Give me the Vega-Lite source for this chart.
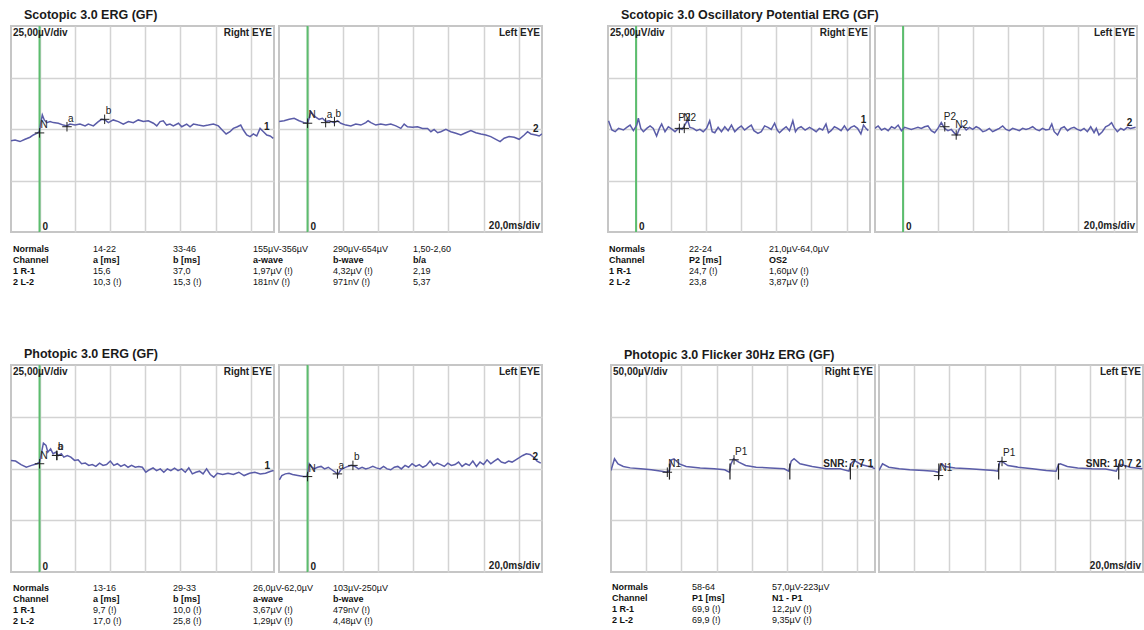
{
"$schema": "https://vega.github.io/schema/vega-lite/v6.json",
"background": "white",
"padding": {"left": 10, "top": 9, "right": 0, "bottom": 0},
"spacing": 60,
"datasets": {
"scot": [
{"e":"R","t":-16.2,"v":-5.7},{"e":"R","t":-13.9,"v":-5.3},{"e":"R","t":-11.1,"v":-6.1},{"e":"R","t":-8.2,"v":-5.0},{"e":"R","t":-5.4,"v":-4.0},{"e":"R","t":-3.5,"v":-2.9},{"e":"R","t":-1.6,"v":-2.1},{"e":"R","t":-0.1,"v":-1.3},{"e":"R","t":0.7,"v":2.8},{"e":"R","t":1.6,"v":6.8},{"e":"R","t":2.7,"v":4.4},{"e":"R","t":4.1,"v":3.1},{"e":"R","t":6.0,"v":3.6},{"e":"R","t":7.8,"v":3.1},{"e":"R","t":10.7,"v":2.8},{"e":"R","t":13.5,"v":1.9},{"e":"R","t":15.5,"v":1.5},{"e":"R","t":17.3,"v":2.4},{"e":"R","t":20.2,"v":1.9},{"e":"R","t":23.0,"v":2.4},{"e":"R","t":25.9,"v":1.5},{"e":"R","t":27.7,"v":2.4},{"e":"R","t":30.6,"v":1.5},{"e":"R","t":33.4,"v":3.6},{"e":"R","t":35.3,"v":4.7},{"e":"R","t":37.2,"v":4.4},{"e":"R","t":39.1,"v":3.1},{"e":"R","t":41.9,"v":4.4},{"e":"R","t":44.8,"v":3.6},{"e":"R","t":47.6,"v":2.4},{"e":"R","t":50.5,"v":3.6},{"e":"R","t":53.3,"v":3.1},{"e":"R","t":56.1,"v":4.4},{"e":"R","t":59.0,"v":3.6},{"e":"R","t":61.8,"v":4.0},{"e":"R","t":64.7,"v":2.8},{"e":"R","t":66.6,"v":1.5},{"e":"R","t":68.5,"v":3.6},{"e":"R","t":70.3,"v":4.0},{"e":"R","t":72.2,"v":1.9},{"e":"R","t":74.1,"v":2.4},{"e":"R","t":76.0,"v":1.5},{"e":"R","t":78.9,"v":2.8},{"e":"R","t":80.8,"v":1.1},{"e":"R","t":83.6,"v":2.4},{"e":"R","t":85.5,"v":1.1},{"e":"R","t":87.4,"v":2.4},{"e":"R","t":90.2,"v":1.9},{"e":"R","t":93.1,"v":1.5},{"e":"R","t":95.9,"v":1.9},{"e":"R","t":98.8,"v":2.4},{"e":"R","t":101.6,"v":1.5},{"e":"R","t":103.5,"v":-0.2},{"e":"R","t":106.0,"v":-2.4},{"e":"R","t":108.2,"v":-1.3},{"e":"R","t":110.1,"v":0.3},{"e":"R","t":112.4,"v":1.1},{"e":"R","t":114.3,"v":1.9},{"e":"R","t":115.8,"v":-0.5},{"e":"R","t":117.7,"v":-2.9},{"e":"R","t":119.6,"v":-3.7},{"e":"R","t":121.5,"v":-2.4},{"e":"R","t":123.4,"v":-3.4},{"e":"R","t":125.3,"v":0.3},{"e":"R","t":127.2,"v":-1.3},{"e":"R","t":129.1,"v":-2.9},{"e":"R","t":131.0,"v":-3.4},{"e":"R","t":132.8,"v":-4.5},
{"e":"L","t":-16.1,"v":3.6},{"e":"L","t":-13.3,"v":4.0},{"e":"L","t":-10.4,"v":4.7},{"e":"L","t":-7.6,"v":5.2},{"e":"L","t":-4.8,"v":4.0},{"e":"L","t":-1.9,"v":3.1},{"e":"L","t":0,"v":2.8},{"e":"L","t":0.9,"v":5.2},{"e":"L","t":1.9,"v":8.4},{"e":"L","t":3.4,"v":6.8},{"e":"L","t":4.7,"v":5.7},{"e":"L","t":6.6,"v":4.7},{"e":"L","t":8.5,"v":5.2},{"e":"L","t":10.4,"v":3.6},{"e":"L","t":12.3,"v":4.0},{"e":"L","t":15.1,"v":3.1},{"e":"L","t":17.0,"v":4.0},{"e":"L","t":18.9,"v":2.8},{"e":"L","t":21.8,"v":1.9},{"e":"L","t":24.6,"v":1.5},{"e":"L","t":27.4,"v":2.4},{"e":"L","t":30.3,"v":1.9},{"e":"L","t":33.1,"v":3.1},{"e":"L","t":34.4,"v":4.0},{"e":"L","t":36.0,"v":3.1},{"e":"L","t":38.8,"v":1.9},{"e":"L","t":41.6,"v":2.4},{"e":"L","t":44.5,"v":1.9},{"e":"L","t":47.3,"v":2.4},{"e":"L","t":50.2,"v":1.5},{"e":"L","t":53.0,"v":0.3},{"e":"L","t":54.9,"v":2.4},{"e":"L","t":56.8,"v":1.1},{"e":"L","t":59.7,"v":0.8},{"e":"L","t":62.5,"v":1.1},{"e":"L","t":65.3,"v":0.3},{"e":"L","t":68.2,"v":0.3},{"e":"L","t":70.1,"v":-1.3},{"e":"L","t":71.9,"v":-0.2},{"e":"L","t":73.9,"v":-1.8},{"e":"L","t":75.7,"v":-1.3},{"e":"L","t":78.6,"v":-0.2},{"e":"L","t":81.4,"v":-1.3},{"e":"L","t":84.3,"v":-2.1},{"e":"L","t":87.1,"v":-2.9},{"e":"L","t":89.9,"v":-1.8},{"e":"L","t":92.8,"v":-0.8},{"e":"L","t":95.6,"v":-1.8},{"e":"L","t":98.5,"v":-2.4},{"e":"L","t":101.3,"v":-2.9},{"e":"L","t":104.1,"v":-3.7},{"e":"L","t":107.0,"v":-5.0},{"e":"L","t":109.4,"v":-6.1},{"e":"L","t":111.7,"v":-4.5},{"e":"L","t":114.5,"v":-3.7},{"e":"L","t":117.4,"v":-4.0},{"e":"L","t":120.2,"v":-5.0},{"e":"L","t":123.1,"v":-2.9},{"e":"L","t":125.0,"v":-1.3},{"e":"L","t":126.9,"v":-2.4},{"e":"L","t":129.7,"v":-2.9},{"e":"L","t":131.6,"v":-3.4},{"e":"L","t":133.2,"v":-2.4},
{"e":"R","k":"eye","lab":"Right EYE"},{"e":"L","k":"eye","lab":"Left EYE"},{"e":"R","k":"tl","lab":"25,00µV/div"},{"e":"L","k":"br","lab":"20,0ms/div"},
{"e":"R","k":"mk","t":0,"v":-1.9,"lab":"N"},{"e":"R","k":"mk","t":15.6,"v":1.1,"lab":"a"},{"e":"R","k":"mk","t":37.0,"v":4.7,"lab":"b"},{"e":"R","k":"ch","t":129.1,"v":0.8,"lab":"1"},
{"e":"L","k":"mk","t":0,"v":2.8,"lab":"N"},{"e":"L","k":"mk","t":10.3,"v":3.1,"lab":"a"},{"e":"L","k":"mk","t":15.3,"v":3.6,"lab":"b"},{"e":"L","k":"ch","t":129.7,"v":0,"lab":"2"}
],
"osc": [
{"e":"R","t":-15.7,"v":4.0},{"e":"R","t":-13.8,"v":-0.5},{"e":"R","t":-11.9,"v":-1.3},{"e":"R","t":-10.0,"v":0.3},{"e":"R","t":-7.2,"v":-0.5},{"e":"R","t":-5.3,"v":0.8},{"e":"R","t":-3.4,"v":1.9},{"e":"R","t":-1.5,"v":-0.8},{"e":"R","t":0.4,"v":1.9},{"e":"R","t":1.3,"v":5.2},{"e":"R","t":2.7,"v":0.3},{"e":"R","t":4.2,"v":-1.3},{"e":"R","t":6.1,"v":0.3},{"e":"R","t":8.0,"v":1.5},{"e":"R","t":9.8,"v":0.3},{"e":"R","t":11.7,"v":-3.4},{"e":"R","t":13.3,"v":0.3},{"e":"R","t":14.6,"v":2.4},{"e":"R","t":16.5,"v":-1.3},{"e":"R","t":18.4,"v":1.1},{"e":"R","t":20.6,"v":-0.2},{"e":"R","t":22.2,"v":-1.3},{"e":"R","t":24.1,"v":0.3},{"e":"R","t":26.3,"v":-0.2},{"e":"R","t":27.8,"v":1.9},{"e":"R","t":29.4,"v":4.4},{"e":"R","t":30.7,"v":0.8},{"e":"R","t":32.6,"v":0.3},{"e":"R","t":34.5,"v":-0.8},{"e":"R","t":36.4,"v":-0.2},{"e":"R","t":38.3,"v":-1.3},{"e":"R","t":40.2,"v":0.3},{"e":"R","t":42.0,"v":4.0},{"e":"R","t":43.4,"v":-1.3},{"e":"R","t":44.9,"v":-1.8},{"e":"R","t":46.8,"v":0.8},{"e":"R","t":48.7,"v":-1.3},{"e":"R","t":50.6,"v":1.1},{"e":"R","t":52.5,"v":-0.8},{"e":"R","t":54.4,"v":1.9},{"e":"R","t":56.3,"v":-1.3},{"e":"R","t":58.1,"v":0.3},{"e":"R","t":60.0,"v":1.5},{"e":"R","t":61.9,"v":-0.5},{"e":"R","t":63.8,"v":0.8},{"e":"R","t":65.7,"v":1.9},{"e":"R","t":67.2,"v":-0.8},{"e":"R","t":69.5,"v":-2.1},{"e":"R","t":71.4,"v":-1.3},{"e":"R","t":73.3,"v":1.5},{"e":"R","t":75.2,"v":0.8},{"e":"R","t":77.1,"v":-0.2},{"e":"R","t":79.0,"v":2.8},{"e":"R","t":80.5,"v":-0.5},{"e":"R","t":81.8,"v":-1.8},{"e":"R","t":83.7,"v":-0.2},{"e":"R","t":85.6,"v":1.1},{"e":"R","t":87.5,"v":-0.8},{"e":"R","t":89.4,"v":4.0},{"e":"R","t":90.9,"v":-1.3},{"e":"R","t":92.2,"v":0.3},{"e":"R","t":94.1,"v":1.1},{"e":"R","t":96.4,"v":-0.5},{"e":"R","t":98.9,"v":0.8},{"e":"R","t":100.8,"v":-0.2},{"e":"R","t":102.7,"v":-1.3},{"e":"R","t":104.5,"v":0.3},{"e":"R","t":106.4,"v":-0.5},{"e":"R","t":108.3,"v":2.4},{"e":"R","t":109.7,"v":-1.8},{"e":"R","t":111.2,"v":-0.8},{"e":"R","t":113.1,"v":1.1},{"e":"R","t":115.0,"v":0.3},{"e":"R","t":116.9,"v":-0.8},{"e":"R","t":118.8,"v":1.5},{"e":"R","t":120.6,"v":-0.8},{"e":"R","t":122.5,"v":0.8},{"e":"R","t":124.4,"v":1.5},{"e":"R","t":126.3,"v":0.3},{"e":"R","t":128.2,"v":-2.4},{"e":"R","t":129.7,"v":1.9},{"e":"R","t":131.1,"v":0.3},{"e":"R","t":132.4,"v":-0.8},
{"e":"L","t":-16.1,"v":0.3},{"e":"L","t":-14.2,"v":1.5},{"e":"L","t":-12.3,"v":-0.5},{"e":"L","t":-10.4,"v":0.3},{"e":"L","t":-8.5,"v":-0.8},{"e":"L","t":-6.6,"v":1.1},{"e":"L","t":-4.7,"v":0.3},{"e":"L","t":-2.8,"v":1.9},{"e":"L","t":-0.9,"v":-0.8},{"e":"L","t":0.9,"v":0.8},{"e":"L","t":2.8,"v":0.3},{"e":"L","t":4.7,"v":-0.2},{"e":"L","t":6.6,"v":0.3},{"e":"L","t":8.5,"v":0.8},{"e":"L","t":10.4,"v":0.3},{"e":"L","t":12.3,"v":1.1},{"e":"L","t":14.2,"v":1.5},{"e":"L","t":16.1,"v":-0.8},{"e":"L","t":18.0,"v":-1.8},{"e":"L","t":19.9,"v":0.3},{"e":"L","t":21.8,"v":3.1},{"e":"L","t":23.7,"v":0.3},{"e":"L","t":25.6,"v":-0.8},{"e":"L","t":27.5,"v":-0.2},{"e":"L","t":29.4,"v":-2.1},{"e":"L","t":30.7,"v":-2.9},{"e":"L","t":32.2,"v":0.3},{"e":"L","t":34.1,"v":1.5},{"e":"L","t":36.0,"v":-0.5},{"e":"L","t":37.9,"v":0.8},{"e":"L","t":39.8,"v":-0.2},{"e":"L","t":41.7,"v":1.1},{"e":"L","t":43.6,"v":0.3},{"e":"L","t":45.5,"v":-1.3},{"e":"L","t":47.3,"v":-0.8},{"e":"L","t":49.2,"v":0.3},{"e":"L","t":51.1,"v":-1.3},{"e":"L","t":53.0,"v":-0.5},{"e":"L","t":54.9,"v":0.3},{"e":"L","t":56.8,"v":1.5},{"e":"L","t":58.7,"v":-0.2},{"e":"L","t":60.6,"v":-0.8},{"e":"L","t":62.5,"v":0.3},{"e":"L","t":64.4,"v":-0.2},{"e":"L","t":66.3,"v":-0.8},{"e":"L","t":68.2,"v":0.3},{"e":"L","t":70.1,"v":-0.2},{"e":"L","t":72.0,"v":0.3},{"e":"L","t":73.9,"v":1.1},{"e":"L","t":75.8,"v":-0.2},{"e":"L","t":77.7,"v":-0.8},{"e":"L","t":79.5,"v":0.3},{"e":"L","t":81.4,"v":-0.5},{"e":"L","t":83.3,"v":-0.2},{"e":"L","t":84.8,"v":2.4},{"e":"L","t":86.2,"v":-1.3},{"e":"L","t":88.1,"v":-2.9},{"e":"L","t":90.0,"v":0.3},{"e":"L","t":91.9,"v":1.1},{"e":"L","t":93.8,"v":-0.8},{"e":"L","t":95.6,"v":0.3},{"e":"L","t":97.5,"v":0.8},{"e":"L","t":99.4,"v":-0.2},{"e":"L","t":101.3,"v":-0.8},{"e":"L","t":103.2,"v":0.3},{"e":"L","t":105.1,"v":-1.3},{"e":"L","t":107.0,"v":1.1},{"e":"L","t":108.9,"v":-1.8},{"e":"L","t":110.2,"v":0.3},{"e":"L","t":111.7,"v":-2.9},{"e":"L","t":113.6,"v":-1.3},{"e":"L","t":115.5,"v":1.1},{"e":"L","t":117.4,"v":1.9},{"e":"L","t":118.9,"v":3.1},{"e":"L","t":120.3,"v":0.8},{"e":"L","t":122.2,"v":-1.3},{"e":"L","t":124.1,"v":0.3},{"e":"L","t":125.9,"v":-0.5},{"e":"L","t":127.8,"v":0.8},{"e":"L","t":129.7,"v":0.3},{"e":"L","t":132.6,"v":0.8},
{"e":"R","k":"eye","lab":"Right EYE"},{"e":"L","k":"eye","lab":"Left EYE"},{"e":"R","k":"tl","lab":"25,00µV/div"},{"e":"L","k":"br","lab":"20,0ms/div"},
{"e":"R","k":"mk","t":24.7,"v":0.3,"lab":"P2"},{"e":"R","k":"mk","t":27.5,"v":0.3,"lab":"N2"},{"e":"R","k":"ch","t":129.7,"v":4.4,"lab":"1"},
{"e":"L","k":"mk","t":23.8,"v":1.1,"lab":"P2"},{"e":"L","k":"mk","t":30.3,"v":-2.9,"lab":"N2"},{"e":"L","k":"ch","t":129.2,"v":3.1,"lab":"2"}
],
"phot": [
{"e":"R","t":-16.2,"v":3.9},{"e":"R","t":-13.6,"v":3.6},{"e":"R","t":-10.5,"v":1.9},{"e":"R","t":-7.5,"v":0.6},{"e":"R","t":-4.5,"v":1.5},{"e":"R","t":-1.4,"v":2.3},{"e":"R","t":0,"v":3.1},{"e":"R","t":1.0,"v":7.1},{"e":"R","t":2.2,"v":12.3},{"e":"R","t":3.7,"v":11.2},{"e":"R","t":4.7,"v":7.9},{"e":"R","t":6.3,"v":9.5},{"e":"R","t":7.7,"v":7.1},{"e":"R","t":9.1,"v":7.9},{"e":"R","t":10.8,"v":6.3},{"e":"R","t":12.4,"v":7.1},{"e":"R","t":13.8,"v":5.5},{"e":"R","t":15.8,"v":6.3},{"e":"R","t":17.8,"v":5.5},{"e":"R","t":19.9,"v":3.9},{"e":"R","t":21.9,"v":4.2},{"e":"R","t":23.9,"v":2.3},{"e":"R","t":26.0,"v":2.6},{"e":"R","t":28.0,"v":1.5},{"e":"R","t":30.0,"v":1.9},{"e":"R","t":32.0,"v":1.0},{"e":"R","t":34.1,"v":2.6},{"e":"R","t":36.1,"v":1.5},{"e":"R","t":38.1,"v":1.9},{"e":"R","t":40.2,"v":3.6},{"e":"R","t":42.2,"v":1.5},{"e":"R","t":44.2,"v":2.3},{"e":"R","t":46.2,"v":1.0},{"e":"R","t":48.3,"v":1.9},{"e":"R","t":50.3,"v":0.6},{"e":"R","t":52.3,"v":1.5},{"e":"R","t":54.4,"v":0.6},{"e":"R","t":56.4,"v":1.0},{"e":"R","t":58.4,"v":0.6},{"e":"R","t":60.4,"v":-1.8},{"e":"R","t":62.5,"v":-0.6},{"e":"R","t":64.5,"v":0.3},{"e":"R","t":66.5,"v":-1.0},{"e":"R","t":68.6,"v":-0.2},{"e":"R","t":70.6,"v":-1.8},{"e":"R","t":72.6,"v":-0.2},{"e":"R","t":74.6,"v":-1.0},{"e":"R","t":76.7,"v":0.2},{"e":"R","t":78.7,"v":-1.0},{"e":"R","t":80.7,"v":-0.2},{"e":"R","t":82.8,"v":-1.8},{"e":"R","t":84.8,"v":0.3},{"e":"R","t":86.8,"v":-2.6},{"e":"R","t":88.8,"v":-1.8},{"e":"R","t":90.9,"v":-1.3},{"e":"R","t":92.9,"v":-2.6},{"e":"R","t":94.9,"v":-0.2},{"e":"R","t":97.0,"v":-2.9},{"e":"R","t":99.0,"v":-4.2},{"e":"R","t":101.0,"v":-2.3},{"e":"R","t":104.1,"v":-2.9},{"e":"R","t":107.1,"v":-2.3},{"e":"R","t":110.1,"v":-2.9},{"e":"R","t":113.2,"v":-1.8},{"e":"R","t":116.2,"v":-3.4},{"e":"R","t":119.3,"v":-2.3},{"e":"R","t":122.3,"v":-1.8},{"e":"R","t":125.4,"v":-2.6},{"e":"R","t":128.4,"v":-2.3},{"e":"R","t":131.4,"v":-1.3},{"e":"R","t":133.0,"v":-1.0},
{"e":"L","t":-16.0,"v":-5.5},{"e":"L","t":-14.6,"v":-3.4},{"e":"L","t":-12.6,"v":-2.6},{"e":"L","t":-10.5,"v":-2.3},{"e":"L","t":-8.5,"v":-2.9},{"e":"L","t":-5.5,"v":-3.4},{"e":"L","t":-2.4,"v":-3.9},{"e":"L","t":-0.4,"v":-3.9},{"e":"L","t":0.2,"v":-1.8},{"e":"L","t":1.0,"v":2.3},{"e":"L","t":2.2,"v":1.0},{"e":"L","t":3.7,"v":-0.2},{"e":"L","t":5.7,"v":0.6},{"e":"L","t":7.7,"v":1.0},{"e":"L","t":9.7,"v":-0.2},{"e":"L","t":11.8,"v":0.6},{"e":"L","t":13.8,"v":-0.6},{"e":"L","t":15.8,"v":-1.8},{"e":"L","t":17.2,"v":-2.9},{"e":"L","t":18.9,"v":-0.6},{"e":"L","t":20.9,"v":0.3},{"e":"L","t":22.9,"v":1.0},{"e":"L","t":24.9,"v":1.5},{"e":"L","t":27.0,"v":1.0},{"e":"L","t":29.0,"v":-0.2},{"e":"L","t":31.0,"v":0.6},{"e":"L","t":33.1,"v":-0.2},{"e":"L","t":35.1,"v":0.3},{"e":"L","t":37.1,"v":1.0},{"e":"L","t":39.1,"v":0.3},{"e":"L","t":41.2,"v":-0.2},{"e":"L","t":43.2,"v":1.0},{"e":"L","t":45.2,"v":-0.2},{"e":"L","t":47.3,"v":-0.6},{"e":"L","t":49.3,"v":0.6},{"e":"L","t":51.3,"v":1.0},{"e":"L","t":53.3,"v":-0.2},{"e":"L","t":55.4,"v":1.5},{"e":"L","t":57.4,"v":0.6},{"e":"L","t":59.4,"v":2.3},{"e":"L","t":61.5,"v":1.0},{"e":"L","t":63.5,"v":1.9},{"e":"L","t":65.5,"v":0.6},{"e":"L","t":67.5,"v":1.5},{"e":"L","t":69.6,"v":3.6},{"e":"L","t":71.6,"v":1.5},{"e":"L","t":73.6,"v":2.6},{"e":"L","t":75.7,"v":1.9},{"e":"L","t":77.7,"v":1.0},{"e":"L","t":79.7,"v":2.6},{"e":"L","t":81.7,"v":1.5},{"e":"L","t":83.8,"v":1.9},{"e":"L","t":85.8,"v":3.1},{"e":"L","t":87.8,"v":1.0},{"e":"L","t":89.9,"v":2.3},{"e":"L","t":91.9,"v":1.5},{"e":"L","t":93.9,"v":3.6},{"e":"L","t":96.0,"v":1.0},{"e":"L","t":98.0,"v":3.1},{"e":"L","t":100.0,"v":1.9},{"e":"L","t":102.0,"v":4.2},{"e":"L","t":104.1,"v":2.3},{"e":"L","t":106.1,"v":3.6},{"e":"L","t":108.1,"v":4.7},{"e":"L","t":110.1,"v":3.1},{"e":"L","t":112.2,"v":2.6},{"e":"L","t":114.2,"v":3.6},{"e":"L","t":116.2,"v":3.1},{"e":"L","t":118.3,"v":4.2},{"e":"L","t":120.3,"v":5.2},{"e":"L","t":122.3,"v":6.3},{"e":"L","t":124.3,"v":7.1},{"e":"L","t":126.4,"v":6.8},{"e":"L","t":128.4,"v":5.5},{"e":"L","t":130.4,"v":3.6},{"e":"L","t":132.5,"v":2.6},
{"e":"R","k":"eye","lab":"Right EYE"},{"e":"L","k":"eye","lab":"Left EYE"},{"e":"R","k":"tl","lab":"25,00µV/div"},{"e":"L","k":"br","lab":"20,0ms/div"},
{"e":"R","k":"mk","t":0,"v":2.3,"lab":"N"},{"e":"R","k":"mk","t":9.7,"v":6.3,"lab":"a"},{"e":"R","k":"mk","t":10.0,"v":6.3,"lab":"b"},{"e":"R","k":"ch","t":129.4,"v":1.0,"lab":"1"},
{"e":"L","k":"mk","t":0,"v":-3.9,"lab":"N"},{"e":"L","k":"mk","t":17.0,"v":-2.6,"lab":"a"},{"e":"L","k":"mk","t":25.8,"v":1.5,"lab":"b"},{"e":"L","k":"ch","t":129.4,"v":5.5,"lab":"2"}
],
"flick": [
{"e":"R","t":0,"v":-1.9},{"e":"R","t":2.0,"v":9.4},{"e":"R","t":4.0,"v":4.5},{"e":"R","t":7.0,"v":1.9},{"e":"R","t":10.9,"v":0.6},{"e":"R","t":16.9,"v":-0.3},{"e":"R","t":22.9,"v":-1.3},{"e":"R","t":28.8,"v":-2.6},{"e":"R","t":31.8,"v":-3.6},{"e":"R","t":33.2,"v":-1.9},{"e":"R","t":34.4,"v":8.4},{"e":"R","t":35.8,"v":9.4},{"e":"R","t":38.8,"v":4.5},{"e":"R","t":42.7,"v":1.9},{"e":"R","t":50.7,"v":0.6},{"e":"R","t":58.6,"v":-0.3},{"e":"R","t":64.6,"v":-1.3},{"e":"R","t":67.2,"v":-3.6},{"e":"R","t":68.2,"v":4.5},{"e":"R","t":69.6,"v":9.4},{"e":"R","t":72.6,"v":6.1},{"e":"R","t":76.5,"v":2.9},{"e":"R","t":82.5,"v":1.3},{"e":"R","t":90.5,"v":0.6},{"e":"R","t":98.4,"v":-0.3},{"e":"R","t":101.0,"v":-2.6},{"e":"R","t":102.4,"v":7.1},{"e":"R","t":104.0,"v":9.4},{"e":"R","t":107.4,"v":4.5},{"e":"R","t":114.3,"v":1.9},{"e":"R","t":122.3,"v":-0.3},{"e":"R","t":130.2,"v":-0.3},{"e":"R","t":135.2,"v":-2.6},{"e":"R","t":136.6,"v":5.2},{"e":"R","t":138.2,"v":7.8},{"e":"R","t":142.1,"v":3.9},{"e":"R","t":148.1,"v":1.3},{"e":"R","t":150,"v":-0.3},
{"e":"L","t":0,"v":-1.9},{"e":"L","t":2.0,"v":4.5},{"e":"L","t":5.6,"v":1.3},{"e":"L","t":11.5,"v":-0.3},{"e":"L","t":17.5,"v":-1.3},{"e":"L","t":25.4,"v":-1.9},{"e":"L","t":31.4,"v":-2.6},{"e":"L","t":33.8,"v":-3.6},{"e":"L","t":34.8,"v":2.9},{"e":"L","t":35.8,"v":4.5},{"e":"L","t":37.4,"v":1.9},{"e":"L","t":43.3,"v":0.6},{"e":"L","t":51.3,"v":-0.3},{"e":"L","t":59.2,"v":-1.3},{"e":"L","t":65.2,"v":-1.9},{"e":"L","t":67.6,"v":-2.6},{"e":"L","t":68.6,"v":6.1},{"e":"L","t":69.6,"v":7.1},{"e":"L","t":73.2,"v":2.9},{"e":"L","t":79.1,"v":1.3},{"e":"L","t":87.1,"v":-0.3},{"e":"L","t":95.0,"v":-1.9},{"e":"L","t":100.6,"v":-2.6},{"e":"L","t":102.0,"v":3.9},{"e":"L","t":103.0,"v":4.5},{"e":"L","t":107.0,"v":1.9},{"e":"L","t":112.9,"v":0.6},{"e":"L","t":120.9,"v":-0.3},{"e":"L","t":128.8,"v":-0.6},{"e":"L","t":134.8,"v":-2.6},{"e":"L","t":136.2,"v":1.9},{"e":"L","t":137.8,"v":3.9},{"e":"L","t":142.7,"v":1.3},{"e":"L","t":149.7,"v":-0.3},
{"e":"R","k":"eye","lab":"Right EYE"},{"e":"L","k":"eye","lab":"Left EYE"},{"e":"R","k":"tl","lab":"50,00µV/div"},{"e":"L","k":"br","lab":"20,0ms/div"},
{"e":"R","k":"mk","t":32.0,"v":-3.6,"lab":"N1"},{"e":"R","k":"mk","t":69.9,"v":8.4,"lab":"P1"},{"e":"R","k":"tk","t":33.2,"v":-3},{"e":"R","k":"tk","t":67.6,"v":-3},{"e":"R","k":"tk","t":101.6,"v":-3},{"e":"R","k":"tk","t":136.0,"v":-3},{"e":"R","k":"snr","t":144,"v":4,"lab":"SNR: 7,7"},{"e":"R","k":"ch","t":147.5,"v":4,"lab":"1"},
{"e":"L","k":"mk","t":33.8,"v":-6.8,"lab":"N1"},{"e":"L","k":"mk","t":69.9,"v":6.8,"lab":"P1"},{"e":"L","k":"tk","t":34.0,"v":-3},{"e":"L","k":"tk","t":68.0,"v":-3},{"e":"L","k":"tk","t":102.0,"v":-3},{"e":"L","k":"tk","t":136.2,"v":-3},{"e":"L","k":"snr","t":144,"v":4,"lab":"SNR: 10,7"},{"e":"L","k":"ch","t":147.5,"v":4,"lab":"2"}
],
"tab": [
{"b":"S","r":0,"c":0,"s":"Normals"},{"b":"S","r":0,"c":1,"s":"14-22"},{"b":"S","r":0,"c":2,"s":"33-46"},{"b":"S","r":0,"c":3,"s":"155µV-356µV"},{"b":"S","r":0,"c":4,"s":"290µV-654µV"},{"b":"S","r":0,"c":5,"s":"1,50-2,60"},
{"b":"S","r":1,"c":0,"s":"Channel"},{"b":"S","r":1,"c":1,"s":"a [ms]"},{"b":"S","r":1,"c":2,"s":"b [ms]"},{"b":"S","r":1,"c":3,"s":"a-wave"},{"b":"S","r":1,"c":4,"s":"b-wave"},{"b":"S","r":1,"c":5,"s":"b/a"},
{"b":"S","r":2,"c":0,"s":"1 R-1"},{"b":"S","r":2,"c":1,"s":"15,6"},{"b":"S","r":2,"c":2,"s":"37,0"},{"b":"S","r":2,"c":3,"s":"1,97µV (!)"},{"b":"S","r":2,"c":4,"s":"4,32µV (!)"},{"b":"S","r":2,"c":5,"s":"2,19"},
{"b":"S","r":3,"c":0,"s":"2 L-2"},{"b":"S","r":3,"c":1,"s":"10,3 (!)"},{"b":"S","r":3,"c":2,"s":"15,3 (!)"},{"b":"S","r":3,"c":3,"s":"181nV (!)"},{"b":"S","r":3,"c":4,"s":"971nV (!)"},{"b":"S","r":3,"c":5,"s":"5,37"},
{"b":"O","r":0,"c":0,"s":"Normals"},{"b":"O","r":0,"c":1,"s":"22-24"},{"b":"O","r":0,"c":2,"s":"21,0µV-64,0µV"},
{"b":"O","r":1,"c":0,"s":"Channel"},{"b":"O","r":1,"c":1,"s":"P2 [ms]"},{"b":"O","r":1,"c":2,"s":"OS2"},
{"b":"O","r":2,"c":0,"s":"1 R-1"},{"b":"O","r":2,"c":1,"s":"24,7 (!)"},{"b":"O","r":2,"c":2,"s":"1,60µV (!)"},
{"b":"O","r":3,"c":0,"s":"2 L-2"},{"b":"O","r":3,"c":1,"s":"23,8"},{"b":"O","r":3,"c":2,"s":"3,87µV (!)"},
{"b":"P","r":0,"c":0,"s":"Normals"},{"b":"P","r":0,"c":1,"s":"13-16"},{"b":"P","r":0,"c":2,"s":"29-33"},{"b":"P","r":0,"c":3,"s":"26,0µV-62,0µV"},{"b":"P","r":0,"c":4,"s":"103µV-250µV"},
{"b":"P","r":1,"c":0,"s":"Channel"},{"b":"P","r":1,"c":1,"s":"a [ms]"},{"b":"P","r":1,"c":2,"s":"b [ms]"},{"b":"P","r":1,"c":3,"s":"a-wave"},{"b":"P","r":1,"c":4,"s":"b-wave"},
{"b":"P","r":2,"c":0,"s":"1 R-1"},{"b":"P","r":2,"c":1,"s":"9,7 (!)"},{"b":"P","r":2,"c":2,"s":"10,0 (!)"},{"b":"P","r":2,"c":3,"s":"3,67µV (!)"},{"b":"P","r":2,"c":4,"s":"479nV (!)"},
{"b":"P","r":3,"c":0,"s":"2 L-2"},{"b":"P","r":3,"c":1,"s":"17,0 (!)"},{"b":"P","r":3,"c":2,"s":"25,8 (!)"},{"b":"P","r":3,"c":3,"s":"1,29µV (!)"},{"b":"P","r":3,"c":4,"s":"4,48µV (!)"},
{"b":"F","r":0,"c":0,"s":"Normals"},{"b":"F","r":0,"c":1,"s":"58-64"},{"b":"F","r":0,"c":2,"s":"57,0µV-223µV"},
{"b":"F","r":1,"c":0,"s":"Channel"},{"b":"F","r":1,"c":1,"s":"P1 [ms]"},{"b":"F","r":1,"c":2,"s":"N1 - P1"},
{"b":"F","r":2,"c":0,"s":"1 R-1"},{"b":"F","r":2,"c":1,"s":"69,9 (!)"},{"b":"F","r":2,"c":2,"s":"12,2µV (!)"},
{"b":"F","r":3,"c":0,"s":"2 L-2"},{"b":"F","r":3,"c":1,"s":"69,9 (!)"},{"b":"F","r":3,"c":2,"s":"9,35µV (!)"}
]
},
"vconcat": [
{"hconcat": [
{"title": "Scotopic 3.0 ERG (GF)", "spacing": 9, "vconcat": [
{"data": {"name": "scot"}, "facet": {"column": {"field": "e", "type": "nominal", "sort": ["R","L"], "title": null, "header": {"labels": false}}}, "spacing": 3,
"spec": {"width": 263, "height": 206, "layer": [
{"transform": [{"filter": "datum.k=='eye'"}], "mark": {"type": "rule", "color": "#5cbd6e", "strokeWidth": 2}, "encoding": {"x": {"datum": 0}}},
{"transform": [{"filter": "!datum.k"}], "mark": {"type": "line", "color": "#5a5ca8", "strokeWidth": 1.5, "clip": true}, "encoding": {"x": {"field": "t", "type": "quantitative", "scale": {"domain": [-16.2,133.2], "nice": false, "zero": false}, "axis": {"values": [0,20,40,60,80,100,120], "title": null}}, "y": {"field": "v", "type": "quantitative", "scale": {"domain": [-50,50], "nice": false, "zero": false}, "axis": {"values": [-25,0,25], "title": null}}}},
{"transform": [{"filter": "datum.k=='mk'"}], "mark": {"type": "point", "shape": "M-1,0H1M0,-1V1", "size": 90, "filled": false, "color": "#222", "strokeWidth": 1, "opacity": 1}, "encoding": {"x": {"field": "t", "type": "quantitative"}, "y": {"field": "v", "type": "quantitative"}}},
{"transform": [{"filter": "datum.k=='mk'"}], "mark": {"type": "text", "align": "left", "baseline": "alphabetic", "dx": 1, "dy": -5, "fontSize": 10, "color": "#222"}, "encoding": {"x": {"field": "t", "type": "quantitative"}, "y": {"field": "v", "type": "quantitative"}, "text": {"field": "lab"}}},
{"transform": [{"filter": "datum.k=='ch'"}], "mark": {"type": "text", "align": "center", "baseline": "middle", "fontSize": 10, "fontWeight": "bold", "color": "#222"}, "encoding": {"x": {"field": "t", "type": "quantitative"}, "y": {"field": "v", "type": "quantitative"}, "text": {"field": "lab"}}},
{"transform": [{"filter": "datum.k=='tl'"}], "mark": {"type": "text", "align": "left", "baseline": "top", "dx": 2, "dy": 2, "fontSize": 10, "fontWeight": "bold", "color": "#222"}, "encoding": {"x": {"datum": -16.2}, "y": {"datum": 50}, "text": {"field": "lab"}}},
{"transform": [{"filter": "datum.k=='eye'"}], "mark": {"type": "text", "align": "right", "baseline": "top", "dx": -2, "dy": 2, "fontSize": 10, "fontWeight": "bold", "color": "#222"}, "encoding": {"x": {"datum": 133.2}, "y": {"datum": 50}, "text": {"field": "lab"}}},
{"transform": [{"filter": "datum.k=='eye'"}], "mark": {"type": "text", "align": "left", "baseline": "alphabetic", "dx": 3, "dy": -2, "fontSize": 10, "fontWeight": "bold", "color": "#222"}, "encoding": {"x": {"datum": 0}, "y": {"datum": -50}, "text": {"value": "0"}}},
{"transform": [{"filter": "datum.k=='br'"}], "mark": {"type": "text", "align": "right", "baseline": "alphabetic", "dx": -2, "dy": -3, "fontSize": 10, "fontWeight": "bold", "color": "#222"}, "encoding": {"x": {"datum": 133.2}, "y": {"datum": -50}, "text": {"field": "lab"}}}
]}},
{"data": {"name": "tab"}, "transform": [{"filter": "datum.b=='S'"}], "width": 529, "height": 45, "view": {"stroke": null},
"encoding": {"x": {"field": "c", "type": "quantitative", "scale": {"domain": [-0.025,6.5875], "nice": false, "zero": false}, "axis": null}, "y": {"field": "r", "type": "quantitative", "scale": {"domain": [-0.5,3.5], "reverse": true, "nice": false, "zero": false}, "axis": null}, "text": {"field": "s"}},
"layer": [
{"transform": [{"filter": "datum.c==0||datum.r==1"}], "mark": {"type": "text", "align": "left", "baseline": "middle", "fontSize": 9, "fontWeight": "bold", "color": "#111"}},
{"transform": [{"filter": "datum.c>0&&datum.r!=1"}], "mark": {"type": "text", "align": "left", "baseline": "middle", "fontSize": 9, "color": "#111"}}
]}
]},
{"title": "Scotopic 3.0 Oscillatory Potential ERG (GF)", "spacing": 9, "vconcat": [
{"data": {"name": "osc"}, "facet": {"column": {"field": "e", "type": "nominal", "sort": ["R","L"], "title": null, "header": {"labels": false}}}, "spacing": 3,
"spec": {"width": 262, "height": 206, "layer": [
{"transform": [{"filter": "datum.k=='eye'"}], "mark": {"type": "rule", "color": "#5cbd6e", "strokeWidth": 2}, "encoding": {"x": {"datum": 0}}},
{"transform": [{"filter": "!datum.k"}], "mark": {"type": "line", "color": "#5a5ca8", "strokeWidth": 1.5, "clip": true}, "encoding": {"x": {"field": "t", "type": "quantitative", "scale": {"domain": [-16.0,133.4], "nice": false, "zero": false}, "axis": {"values": [0,20,40,60,80,100,120], "title": null}}, "y": {"field": "v", "type": "quantitative", "scale": {"domain": [-50,50], "nice": false, "zero": false}, "axis": {"values": [-25,0,25], "title": null}}}},
{"transform": [{"filter": "datum.k=='mk'"}], "mark": {"type": "point", "shape": "M-1,0H1M0,-1V1", "size": 90, "filled": false, "color": "#222", "strokeWidth": 1, "opacity": 1}, "encoding": {"x": {"field": "t", "type": "quantitative"}, "y": {"field": "v", "type": "quantitative"}}},
{"transform": [{"filter": "datum.k=='mk'"}], "mark": {"type": "text", "align": "left", "baseline": "alphabetic", "dx": -1, "dy": -7, "fontSize": 10, "color": "#222"}, "encoding": {"x": {"field": "t", "type": "quantitative"}, "y": {"field": "v", "type": "quantitative"}, "text": {"field": "lab"}}},
{"transform": [{"filter": "datum.k=='ch'"}], "mark": {"type": "text", "align": "center", "baseline": "middle", "fontSize": 10, "fontWeight": "bold", "color": "#222"}, "encoding": {"x": {"field": "t", "type": "quantitative"}, "y": {"field": "v", "type": "quantitative"}, "text": {"field": "lab"}}},
{"transform": [{"filter": "datum.k=='tl'"}], "mark": {"type": "text", "align": "left", "baseline": "top", "dx": 2, "dy": 2, "fontSize": 10, "fontWeight": "bold", "color": "#222"}, "encoding": {"x": {"datum": -16.0}, "y": {"datum": 50}, "text": {"field": "lab"}}},
{"transform": [{"filter": "datum.k=='eye'"}], "mark": {"type": "text", "align": "right", "baseline": "top", "dx": -2, "dy": 2, "fontSize": 10, "fontWeight": "bold", "color": "#222"}, "encoding": {"x": {"datum": 133.4}, "y": {"datum": 50}, "text": {"field": "lab"}}},
{"transform": [{"filter": "datum.k=='eye'"}], "mark": {"type": "text", "align": "left", "baseline": "alphabetic", "dx": 3, "dy": -2, "fontSize": 10, "fontWeight": "bold", "color": "#222"}, "encoding": {"x": {"datum": 0}, "y": {"datum": -50}, "text": {"value": "0"}}},
{"transform": [{"filter": "datum.k=='br'"}], "mark": {"type": "text", "align": "right", "baseline": "alphabetic", "dx": -2, "dy": -3, "fontSize": 10, "fontWeight": "bold", "color": "#222"}, "encoding": {"x": {"datum": 133.4}, "y": {"datum": -50}, "text": {"field": "lab"}}}
]}},
{"data": {"name": "tab"}, "transform": [{"filter": "datum.b=='O'"}], "width": 527, "height": 45, "view": {"stroke": null},
"encoding": {"x": {"field": "c", "type": "quantitative", "scale": {"domain": [-0.0125,6.575], "nice": false, "zero": false}, "axis": null}, "y": {"field": "r", "type": "quantitative", "scale": {"domain": [-0.5,3.5], "reverse": true, "nice": false, "zero": false}, "axis": null}, "text": {"field": "s"}},
"layer": [
{"transform": [{"filter": "datum.c==0||datum.r==1"}], "mark": {"type": "text", "align": "left", "baseline": "middle", "fontSize": 9, "fontWeight": "bold", "color": "#111"}},
{"transform": [{"filter": "datum.c>0&&datum.r!=1"}], "mark": {"type": "text", "align": "left", "baseline": "middle", "fontSize": 9, "color": "#111"}}
]}
]}
], "spacing": 64},
{"hconcat": [
{"title": "Photopic 3.0 ERG (GF)", "spacing": 8, "vconcat": [
{"data": {"name": "phot"}, "facet": {"column": {"field": "e", "type": "nominal", "sort": ["R","L"], "title": null, "header": {"labels": false}}}, "spacing": 3,
"spec": {"width": 263, "height": 207, "layer": [
{"transform": [{"filter": "datum.k=='eye'"}], "mark": {"type": "rule", "color": "#5cbd6e", "strokeWidth": 2}, "encoding": {"x": {"datum": 0}}},
{"transform": [{"filter": "!datum.k"}], "mark": {"type": "line", "color": "#5a5ca8", "strokeWidth": 1.5, "clip": true}, "encoding": {"x": {"field": "t", "type": "quantitative", "scale": {"domain": [-16.2,133.2], "nice": false, "zero": false}, "axis": {"values": [0,20,40,60,80,100,120], "title": null}}, "y": {"field": "v", "type": "quantitative", "scale": {"domain": [-50,50], "nice": false, "zero": false}, "axis": {"values": [-25,0,25], "title": null}}}},
{"transform": [{"filter": "datum.k=='mk'"}], "mark": {"type": "point", "shape": "M-1,0H1M0,-1V1", "size": 90, "filled": false, "color": "#222", "strokeWidth": 1, "opacity": 1}, "encoding": {"x": {"field": "t", "type": "quantitative"}, "y": {"field": "v", "type": "quantitative"}}},
{"transform": [{"filter": "datum.k=='mk'"}], "mark": {"type": "text", "align": "left", "baseline": "alphabetic", "dx": 1, "dy": -5, "fontSize": 10, "color": "#222"}, "encoding": {"x": {"field": "t", "type": "quantitative"}, "y": {"field": "v", "type": "quantitative"}, "text": {"field": "lab"}}},
{"transform": [{"filter": "datum.k=='ch'"}], "mark": {"type": "text", "align": "center", "baseline": "middle", "fontSize": 10, "fontWeight": "bold", "color": "#222"}, "encoding": {"x": {"field": "t", "type": "quantitative"}, "y": {"field": "v", "type": "quantitative"}, "text": {"field": "lab"}}},
{"transform": [{"filter": "datum.k=='tl'"}], "mark": {"type": "text", "align": "left", "baseline": "top", "dx": 2, "dy": 2, "fontSize": 10, "fontWeight": "bold", "color": "#222"}, "encoding": {"x": {"datum": -16.2}, "y": {"datum": 50}, "text": {"field": "lab"}}},
{"transform": [{"filter": "datum.k=='eye'"}], "mark": {"type": "text", "align": "right", "baseline": "top", "dx": -2, "dy": 2, "fontSize": 10, "fontWeight": "bold", "color": "#222"}, "encoding": {"x": {"datum": 133.2}, "y": {"datum": 50}, "text": {"field": "lab"}}},
{"transform": [{"filter": "datum.k=='eye'"}], "mark": {"type": "text", "align": "left", "baseline": "alphabetic", "dx": 3, "dy": -2, "fontSize": 10, "fontWeight": "bold", "color": "#222"}, "encoding": {"x": {"datum": 0}, "y": {"datum": -50}, "text": {"value": "0"}}},
{"transform": [{"filter": "datum.k=='br'"}], "mark": {"type": "text", "align": "right", "baseline": "alphabetic", "dx": -2, "dy": -3, "fontSize": 10, "fontWeight": "bold", "color": "#222"}, "encoding": {"x": {"datum": 133.2}, "y": {"datum": -50}, "text": {"field": "lab"}}}
]}},
{"data": {"name": "tab"}, "transform": [{"filter": "datum.b=='P'"}], "width": 529, "height": 45, "view": {"stroke": null},
"encoding": {"x": {"field": "c", "type": "quantitative", "scale": {"domain": [-0.025,6.5875], "nice": false, "zero": false}, "axis": null}, "y": {"field": "r", "type": "quantitative", "scale": {"domain": [-0.5,3.5], "reverse": true, "nice": false, "zero": false}, "axis": null}, "text": {"field": "s"}},
"layer": [
{"transform": [{"filter": "datum.c==0||datum.r==1"}], "mark": {"type": "text", "align": "left", "baseline": "middle", "fontSize": 9, "fontWeight": "bold", "color": "#111"}},
{"transform": [{"filter": "datum.c>0&&datum.r!=1"}], "mark": {"type": "text", "align": "left", "baseline": "middle", "fontSize": 9, "color": "#111"}}
]}
]},
{"title": "Photopic 3.0 Flicker 30Hz  ERG (GF)", "spacing": 8, "vconcat": [
{"data": {"name": "flick"}, "facet": {"column": {"field": "e", "type": "nominal", "sort": ["R","L"], "title": null, "header": {"labels": false}}}, "spacing": 2,
"spec": {"width": 264, "height": 207, "layer": [
{"transform": [{"filter": "!datum.k"}], "mark": {"type": "line", "color": "#5a5ca8", "strokeWidth": 1.5, "clip": true}, "encoding": {"x": {"field": "t", "type": "quantitative", "scale": {"domain": [0,150], "nice": false, "zero": false}, "axis": {"values": [20,40,60,80,100,120,140], "title": null}}, "y": {"field": "v", "type": "quantitative", "scale": {"domain": [-100,100], "nice": false, "zero": false}, "axis": {"values": [-50,0,50], "title": null}}}},
{"transform": [{"filter": "datum.k=='tk'"}], "mark": {"type": "tick", "orient": "vertical", "color": "#222", "thickness": 1.2, "size": 16, "opacity": 1}, "encoding": {"x": {"field": "t", "type": "quantitative"}, "y": {"field": "v", "type": "quantitative"}}},
{"transform": [{"filter": "datum.k=='mk'"}], "mark": {"type": "point", "shape": "M-1,0H1M0,-1V1", "size": 90, "filled": false, "color": "#222", "strokeWidth": 1, "opacity": 1}, "encoding": {"x": {"field": "t", "type": "quantitative"}, "y": {"field": "v", "type": "quantitative"}}},
{"transform": [{"filter": "datum.k=='mk'"}], "mark": {"type": "text", "align": "left", "baseline": "alphabetic", "dx": 1, "dy": -5, "fontSize": 10, "color": "#222"}, "encoding": {"x": {"field": "t", "type": "quantitative"}, "y": {"field": "v", "type": "quantitative"}, "text": {"field": "lab"}}},
{"transform": [{"filter": "datum.k=='snr'"}], "mark": {"type": "text", "align": "right", "baseline": "middle", "fontSize": 10, "fontWeight": "bold", "color": "#222"}, "encoding": {"x": {"field": "t", "type": "quantitative"}, "y": {"field": "v", "type": "quantitative"}, "text": {"field": "lab"}}},
{"transform": [{"filter": "datum.k=='ch'"}], "mark": {"type": "text", "align": "center", "baseline": "middle", "fontSize": 10, "fontWeight": "bold", "color": "#222"}, "encoding": {"x": {"field": "t", "type": "quantitative"}, "y": {"field": "v", "type": "quantitative"}, "text": {"field": "lab"}}},
{"transform": [{"filter": "datum.k=='tl'"}], "mark": {"type": "text", "align": "left", "baseline": "top", "dx": 2, "dy": 2, "fontSize": 10, "fontWeight": "bold", "color": "#222"}, "encoding": {"x": {"datum": 0}, "y": {"datum": 100}, "text": {"field": "lab"}}},
{"transform": [{"filter": "datum.k=='eye'"}], "mark": {"type": "text", "align": "right", "baseline": "top", "dx": -2, "dy": 2, "fontSize": 10, "fontWeight": "bold", "color": "#222"}, "encoding": {"x": {"datum": 150}, "y": {"datum": 100}, "text": {"field": "lab"}}},
{"transform": [{"filter": "datum.k=='br'"}], "mark": {"type": "text", "align": "right", "baseline": "alphabetic", "dx": -2, "dy": -3, "fontSize": 10, "fontWeight": "bold", "color": "#222"}, "encoding": {"x": {"datum": 150}, "y": {"datum": -100}, "text": {"field": "lab"}}}
]}},
{"data": {"name": "tab"}, "transform": [{"filter": "datum.b=='F'"}], "width": 530, "height": 45, "view": {"stroke": null},
"encoding": {"x": {"field": "c", "type": "quantitative", "scale": {"domain": [-0.0125,6.6125], "nice": false, "zero": false}, "axis": null}, "y": {"field": "r", "type": "quantitative", "scale": {"domain": [-0.5,3.5], "reverse": true, "nice": false, "zero": false}, "axis": null}, "text": {"field": "s"}},
"layer": [
{"transform": [{"filter": "datum.c==0||datum.r==1"}], "mark": {"type": "text", "align": "left", "baseline": "middle", "fontSize": 9, "fontWeight": "bold", "color": "#111"}},
{"transform": [{"filter": "datum.c>0&&datum.r!=1"}], "mark": {"type": "text", "align": "left", "baseline": "middle", "fontSize": 9, "color": "#111"}}
]}
]}
], "spacing": 67}
],
"config": {
"font": "Liberation Sans",
"view": {"stroke": "#c6c6c6", "strokeWidth": 2},
"axis": {"grid": true, "labels": false, "ticks": false, "domain": false, "gridColor": "#d3d3d3", "gridWidth": 1.5, "minExtent": 0},
"title": {"anchor": "start", "fontSize": 12.5, "fontWeight": "bold", "color": "#1a1a1a", "dx": 14, "offset": 2.5}
}
}
